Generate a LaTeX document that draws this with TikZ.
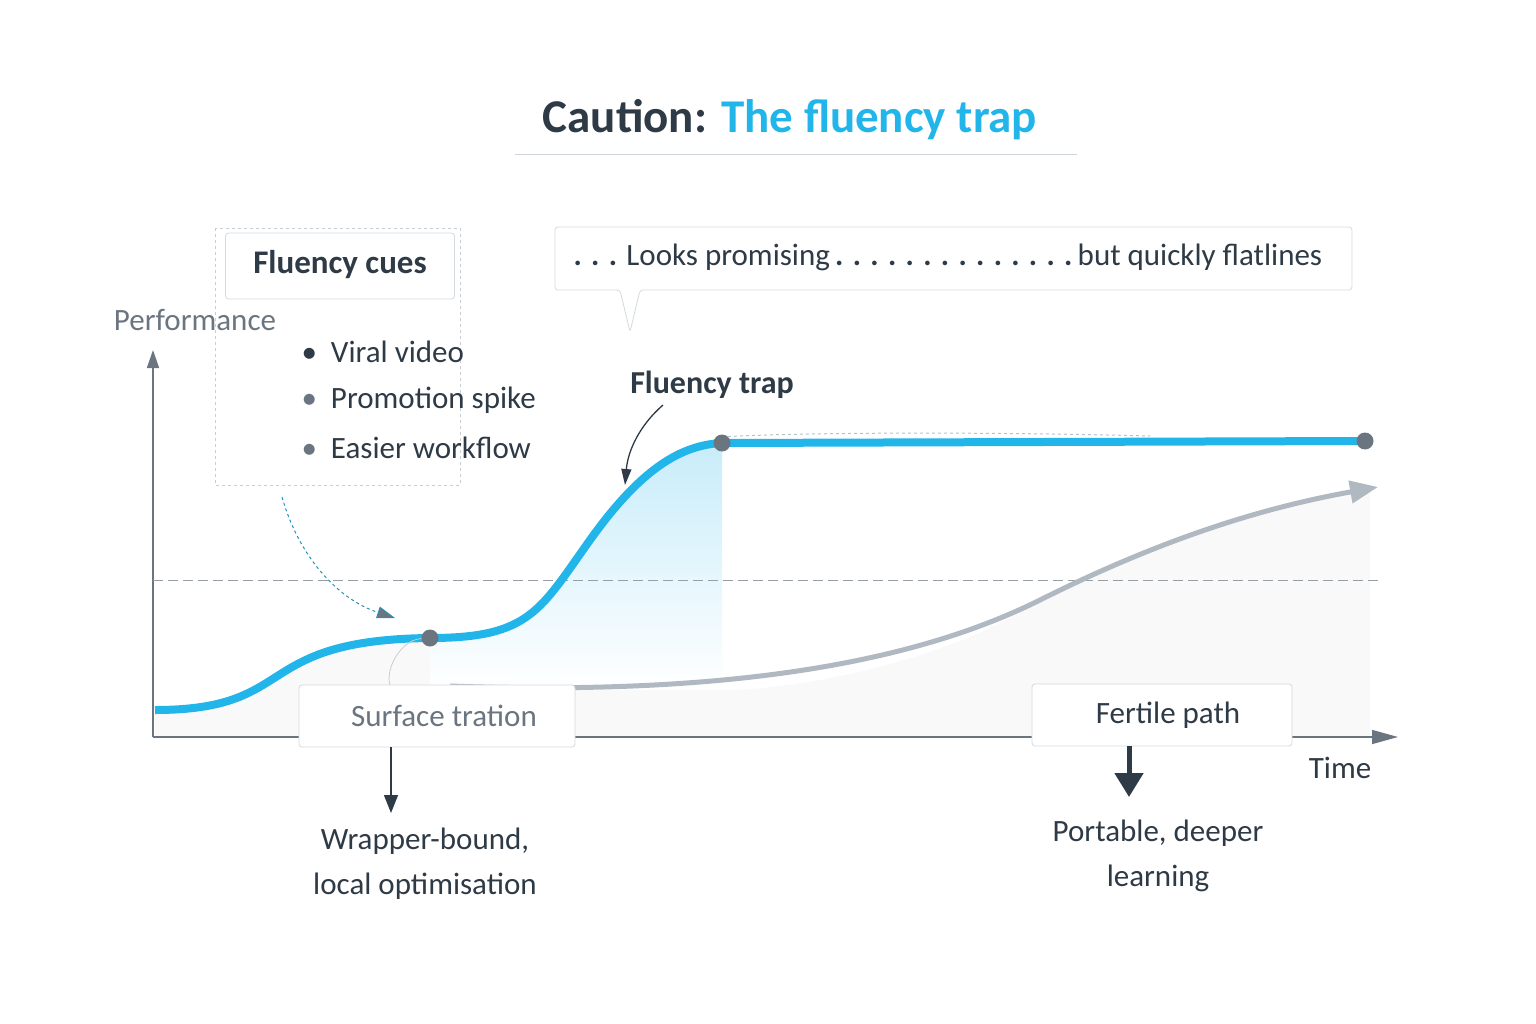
\documentclass[tikz,border=0pt]{standalone}
\usepackage{fontspec}
\setmainfont{Carlito}
\usetikzlibrary{arrows.meta,shapes.callouts}
\definecolor{ink}{HTML}{2E3A46}
\definecolor{sky}{HTML}{22B5EA}
\definecolor{gr}{HTML}{6B7580}
\definecolor{lg}{HTML}{B8C0C8}
\tikzset{
 txt/.style={font=\fontsize{31}{45}\selectfont,text=ink},
 box/.style={draw=lg!60,fill=white,rounded corners=3pt,line width=0.8pt},
 dot/.style={circle,fill=gr,inner sep=0pt,minimum size=17pt},
}
\begin{document}
\begin{tikzpicture}[x=1pt,y=-1pt]
\useasboundingbox (0,0) rectangle (1536,1024);
% title
\node (title) at (790,120) {\fontsize{47}{50}\selectfont\bfseries\textcolor{ink}{Caution:} \textcolor{sky}{The fluency trap}};
\draw[lg!70,line width=1pt] (515,155) -- (1077,155);
% fills
\fill[gr!4] (155,737) -- (155,710) .. controls (300,700) and (250,640) .. (430,638) -- (430,737) -- cycle;
\shade[top color=sky!25,bottom color=white] (430,638) .. controls (530,638) and (540,610) .. (590,540) .. controls (640,470) and (680,445) .. (722,443) -- (722,690) -- (430,690) -- cycle;
\fill[gr!4] (430,690) rectangle (722,737);
\fill[gr!4] (722,690) -- (722,737) -- (1370,737) -- (1370,487) .. controls (1200,530) and (1100,560) .. (1040,600) .. controls (950,660) and (800,690) .. (722,690);
% axes
\draw[gr,line width=1.5pt,-{Triangle[length=18pt,width=12pt]}] (153,737) -- (153,350);
\draw[gr,line width=1.5pt,-{Triangle[length=26pt,width=14pt]}] (153,737) -- (1398,737);
\node[txt,text=gr] (perf) at (195,320) {Performance};
\node[txt] (time) at (1340,768) {Time};
\draw[gr!70,dashed,line width=0.8pt,dash pattern=on 10pt off 5pt] (153,580) -- (1378,580);
% gray curve
\coordinate (g0) at (450,686);
\coordinate (g1) at (1378,487);
\draw[lg!90!gr,line width=5pt,-{Triangle[length=28pt,width=22pt]}] (g0) .. controls (700,695) and (900,670) .. (1040,600) .. controls (1150,545) and (1250,510) .. (g1);
% blue curve
\draw[sky,line width=8pt] (155,710) .. controls (300,710) and (250,640) .. (430,638) .. controls (530,638) and (540,610) .. (590,540) .. controls (640,470) and (680,445) .. (722,443) -- (1365,441);
\draw[lg,dashed,line width=1pt] (722,437) .. controls (800,432) and (1000,432) .. (1150,436);
\node[dot] (d1) at (430,638) {};
\node[dot] (d2) at (722,443) {};
\node[dot] (d3) at (1365,441) {};
% fluency cues
\draw[lg!80,dashed,line width=0.8pt] (215,228) rectangle (460,485);
\node[box,minimum width=229pt,minimum height=66pt] (cues) at (340,266) {};
\node[font=\fontsize{33}{36}\selectfont\bfseries,text=ink] (cuest) at (340,265) {Fluency cues};
\node[txt,anchor=west] (b1) at (298,352) {\textcolor{ink}{\textbullet}\ \ Viral video};
\node[txt,anchor=west] (b2) at (298,400) {\textcolor{gr}{\textbullet}\ \ Promotion spike};
\node[txt,anchor=west] (b3) at (298,448) {\textcolor{gr}{\textbullet}\ \ Easier workflow};
\coordinate (c0) at (282,497);
\draw[sky!70!ink,dashed,line width=1pt,-{Triangle[length=18pt,width=12pt,fill=gr]}] (c0) .. controls (300,560) and (340,600) .. (395,618);
% callout
\draw[box] (555,227) -- (1352,227) -- (1352,290) -- (640,290) -- (630,332) -- (620,290) -- (555,290) -- cycle;
\node[txt,anchor=west] (call) at (570,257) {\textbf{. . .} Looks promising\,\textbf{. . . . . . . . . . . . . .}\,but quickly flatlines};
% fluency trap
\node[txt,font=\fontsize{32}{34}\selectfont\bfseries] (trap) at (712,385) {Fluency trap};
\draw[ink,line width=1.3pt,-{Triangle[length=16pt,width=10pt]}] (663,405) .. controls (640,425) and (628,450) .. (625,485);
% surface box
\draw[lg!80,line width=0.8pt] (d1) .. controls (400,640) and (385,670) .. (390,685);
\node[box,minimum width=276pt,minimum height=62pt] (surf) at (437,716) {};
\node[txt,text=gr] (surft) at (444,716) {Surface tration};
\draw[ink,line width=1.3pt,-{Triangle[length=18pt,width=14pt]}] (391,747) -- (391,813);
\node[txt,align=center] (wrap) at (425,864) {Wrapper-bound,\\local optimisation};
% fertile box
\node[box,minimum width=260pt,minimum height=62pt] (fert) at (1162,715) {};
\node[txt] (fertt) at (1168,715) {Fertile path};
\draw[ink,line width=5pt,-{Triangle[length=24pt,width=28pt]}] (1129,746) -- (1129,797);
\node[txt,align=center] (port) at (1158,856) {Portable, deeper\\learning};
\end{tikzpicture}
\end{document}
